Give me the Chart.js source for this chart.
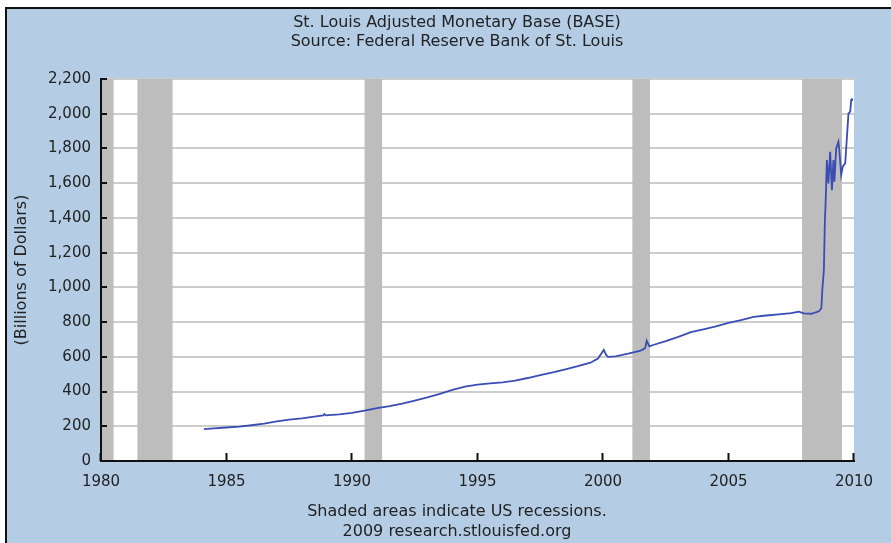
<!DOCTYPE html>
<html>
<head>
<meta charset="utf-8">
<script src="https://cdn.jsdelivr.net/npm/chart.js@4/dist/chart.umd.min.js"></script>
<style>
  html, body { margin: 0; padding: 0; background: #ffffff; overflow: hidden; }
  body { width: 891px; height: 543px; position: relative; font-family: "DejaVu Sans", Verdana, sans-serif; }
  #frame {
    position: absolute; left: 5px; top: 7px; width: 900px; height: 550px;
    border-left: 2px solid #111; border-top: 2px solid #111;
    background: #b4cde5;
  }
  #frame canvas { position: absolute; left: 0; top: 0; }
  .txt { position: absolute; left: 157px; width: 600px; text-align: center; color: #222; font-size: 16px; }
  #title { top: 13px; line-height: 18.5px; }
  #footer { top: 501px; line-height: 20px; }
</style>
</head>
<body>
<div id="frame"><canvas id="canvas" width="884" height="534"></canvas></div>
<div class="txt" id="title">St. Louis Adjusted Monetary Base (BASE)<br>Source: Federal Reserve Bank of St. Louis</div>
<div class="txt" id="footer">Shaded areas indicate US recessions.<br>2009 research.stlouisfed.org</div>
<script>
// monetary base, billions of dollars
const years = [
  1984.1, 1984.5, 1985.0, 1985.5, 1986.0, 1986.5, 1987.0, 1987.5, 1988.0, 1988.5,
  1988.85, 1988.9, 1988.95, 1989.5, 1990.0, 1990.5, 1991.0, 1991.5, 1992.0, 1992.5,
  1993.0, 1993.5, 1994.0, 1994.5, 1995.0, 1995.5, 1996.0, 1996.5, 1997.0, 1997.5,
  1998.0, 1998.5, 1999.0, 1999.5, 1999.8, 1999.95, 2000.03, 2000.12, 2000.2, 2000.5,
  2001.0, 2001.5, 2001.68, 2001.74, 2001.85, 2002.0, 2002.5, 2003.0, 2003.5, 2004.0,
  2004.5, 2005.0, 2005.5, 2006.0, 2006.5, 2007.0, 2007.5, 2007.8, 2008.0, 2008.3,
  2008.6, 2008.7, 2008.74, 2008.8, 2008.84, 2008.87, 2008.92, 2008.98, 2009.05, 2009.12,
  2009.18, 2009.22, 2009.29, 2009.38, 2009.42, 2009.49, 2009.55, 2009.65, 2009.71, 2009.78,
  2009.85, 2009.89, 2009.92
];
const baseValues = [
  183, 188, 193, 198, 206, 215, 228, 238, 246, 256,
  262, 270, 263, 268, 277, 290, 305, 316, 331, 348,
  366, 386, 410, 428, 440, 447, 453, 463, 478, 495,
  510, 528, 546, 566, 590, 622, 640, 612, 600, 603,
  618, 636, 650, 692, 660, 668, 690, 715, 742, 758,
  775, 795, 812, 830, 838, 845, 852, 860, 850, 848,
  862, 880, 990, 1100, 1380, 1490, 1733, 1599, 1781, 1560,
  1733, 1609, 1800, 1839, 1781, 1647, 1695, 1714, 1848, 2002,
  2012, 2079, 2089
];

// US recessions (decimal years)
const recessionStart = [1980.0, 1981.45, 1990.5, 2001.17, 2007.93];
const recessionEnd = [1980.5, 1982.85, 1991.2, 2001.87, 2009.52];

const xTickValues = [1980, 1985, 1990, 1995, 2000, 2005, 2010];
const yTickValues = [0, 200, 400, 600, 800, 1000, 1200, 1400, 1600, 1800, 2000, 2200];

const points = years.map((y, i) => ({ x: y, y: baseValues[i] }));

const tickFont = { family: "'DejaVu Sans', Verdana, sans-serif", size: 15 };

// white plot area, gray recession bars, tick marks pointing into the plot
const recessionPlugin = {
  id: "recessions",
  beforeDraw(chart) {
    const { ctx, chartArea } = chart;
    ctx.save();
    ctx.fillStyle = "#ffffff";
    ctx.fillRect(chartArea.left, chartArea.top, chartArea.right - chartArea.left, chartArea.bottom - chartArea.top);
    ctx.restore();
  },
  beforeDatasetsDraw(chart) {
    const { ctx, chartArea, scales } = chart;
    ctx.save();
    ctx.fillStyle = "#bdbdbd";
    recessionStart.forEach((s, i) => {
      var x1 = Math.max(scales.x.getPixelForValue(s), chartArea.left + 1);
      var x2 = scales.x.getPixelForValue(recessionEnd[i]);
      ctx.fillRect(x1, chartArea.top, x2 - x1, chartArea.bottom - chartArea.top - 1);
    });
    ctx.restore();
  },
  afterDatasetsDraw(chart) {
    const { ctx, chartArea, scales } = chart;
    ctx.save();
    ctx.strokeStyle = "#111";
    ctx.lineWidth = 2;
    ctx.beginPath();
    xTickValues.forEach((v) => {
      var px = Math.round(scales.x.getPixelForValue(v)) - 0.5;
      ctx.moveTo(px, chartArea.bottom);
      ctx.lineTo(px, chartArea.bottom - 8);
    });
    yTickValues.forEach((v) => {
      var py = Math.round(scales.y.getPixelForValue(v));
      ctx.moveTo(chartArea.left, py);
      ctx.lineTo(chartArea.left + 6, py);
    });
    ctx.stroke();
    ctx.restore();
  },
};

const ctx = document.getElementById("canvas").getContext("2d");

const myChart = new Chart(ctx, {
  type: "line",
  data: {
    datasets: [
      {
        label: "BASE",
        data: points,
        borderColor: "#3a4db5",
        borderWidth: 1.8,
        pointRadius: 0,
        tension: 0,
        fill: false,
      },
    ],
  },
  options: {
    responsive: false,
    animation: false,
    layout: { padding: { top: 70, right: 37, bottom: 52, left: 0 } },
    plugins: {
      legend: { display: false },
      tooltip: { enabled: false },
    },
    scales: {
      x: {
        type: "linear",
        min: 1980,
        max: 2010,
        afterBuildTicks: (scale) => {
          scale.ticks = xTickValues.map((v) => ({ value: v }));
        },
        afterFit: (scale) => {
          scale.height = 30;
        },
        ticks: {
          color: "#222",
          font: tickFont,
          padding: 12,
          maxRotation: 0,
          callback: (v) => String(v),
        },
        grid: { drawOnChartArea: false, drawTicks: false },
        border: { display: true, color: "#111", width: 2 },
      },
      y: {
        min: 0,
        max: 2200,
        afterBuildTicks: (scale) => {
          scale.ticks = yTickValues.map((v) => ({ value: v }));
        },
        afterFit: (scale) => {
          scale.width = 94;
        },
        ticks: {
          color: "#222",
          font: tickFont,
          padding: 10,
          callback: (v) => v.toLocaleString("en-US"),
        },
        grid: { color: "#cccccc", lineWidth: 2, drawTicks: false },
        border: { display: true, color: "#111", width: 2 },
        title: {
          display: true,
          text: "(Billions of Dollars)",
          color: "#222",
          font: { family: "'DejaVu Sans', Verdana, sans-serif", size: 16 },
          padding: { top: 5, bottom: 0 },
        },
      },
    },
  },
  plugins: [recessionPlugin],
});
</script>
</body>
</html>
